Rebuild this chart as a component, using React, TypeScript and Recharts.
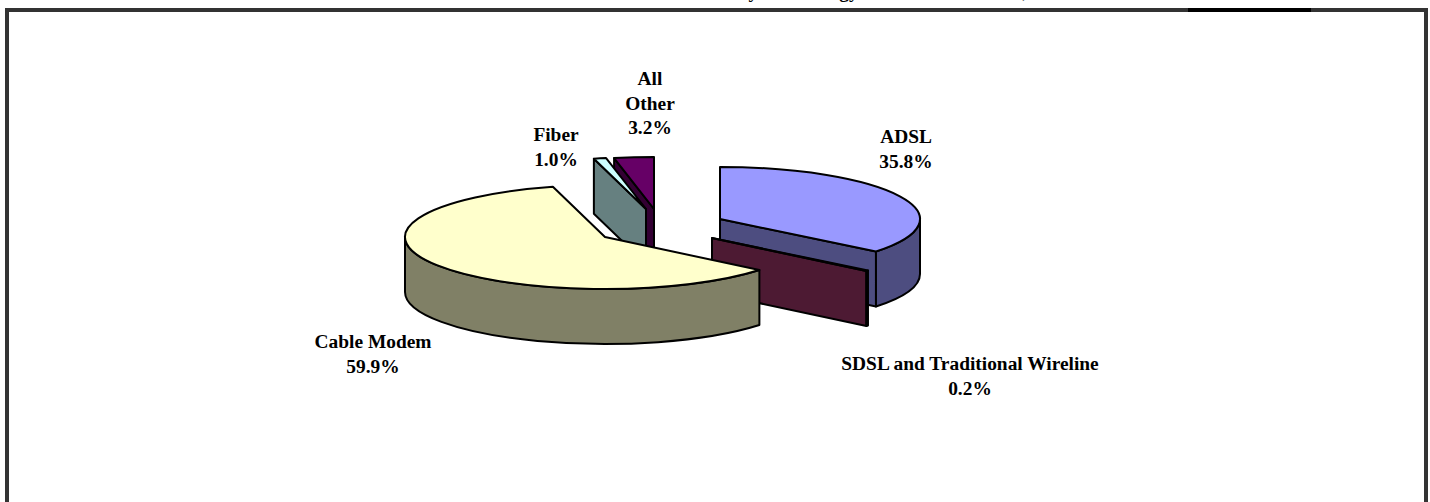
import { Pie, PieChart } from 'recharts';

const names = ['ADSL', 'SDSL and Traditional Wireline', 'Cable Modem', 'Fiber', 'All Other'];
const shares = [35.8, 0.2, 59.9, 1.0, 3.2];
const labelLines = [['ADSL'], ['SDSL and Traditional Wireline'], ['Cable Modem'], ['Fiber'], ['All', 'Other']];

const data = names.map((name, i) => ({ name, value: shares[i] }));

const WIDTH = 1430;
const HEIGHT = 502;
const CX = 660;
const CY = 225;
const RADIUS = 200;
const TILT = 0.26;
const DEPTH = 55;

// how far each slice is pulled out of the pie, and its colours
const explode = [[60, -6], [52, 13], [-55, 12], [-14, -16], [-6, -16]];
const topColors = ['#9999ff', '#993366', '#ffffcc', '#ccffff', '#660066'];
const sideColors = ['#4d4d80', '#4d1a33', '#808066', '#668080', '#330033'];
const labelAnchors = [[906, 143], [970, 370], [373, 348], [556, 141], [650, 85]];

// far slices first, so the cable modem slice ends up in front
const paintOrder = [4, 3, 0, 1, 2];

const rad = (deg: number) => (deg * Math.PI) / 180;

function Slice3D({ startAngle, endAngle, cx, cy, outerRadius, index }: any) {
  // recharts hands over math angles, the projection is easier with clock angles
  const a1 = 90 - startAngle;
  const a2 = 90 - endAngle;
  const ox = cx + explode[index][0];
  const oy = cy + explode[index][1];
  const rx = outerRadius;
  const ry = outerRadius * TILT;
  const px = (a: number) => ox + rx * Math.sin(rad(a));
  const py = (a: number) => oy - ry * Math.cos(rad(a));
  const arc = (from: number, to: number, dy: number) => {
    const large = Math.abs(to - from) > 180 ? 1 : 0;
    const sweep = to > from ? 1 : 0;
    return `A ${rx} ${ry} 0 ${large} ${sweep} ${px(to)} ${py(to) + dy}`;
  };
  const face = (a: number) =>
    `M ${ox} ${oy} L ${px(a)} ${py(a)} L ${px(a)} ${py(a) + DEPTH} L ${ox} ${oy + DEPTH} Z`;

  const wallFrom = Math.max(a1, 90);
  const wallTo = Math.min(a2, 270);
  const side = { fill: sideColors[index], stroke: '#000', strokeWidth: 2, strokeLinejoin: 'round' as const };

  return (
    <g>
      {Math.sin(rad(a1)) < -0.001 && <path d={face(a1)} {...side} />}
      {Math.sin(rad(a2)) > 0.001 && <path d={face(a2)} {...side} />}
      {wallTo > wallFrom && (
        <path
          d={`M ${px(wallFrom)} ${py(wallFrom)} ${arc(wallFrom, wallTo, 0)} L ${px(wallTo)} ${py(wallTo) + DEPTH} ${arc(wallTo, wallFrom, DEPTH)} Z`}
          {...side}
        />
      )}
      <path
        d={`M ${ox} ${oy} L ${px(a1)} ${py(a1)} ${arc(a1, a2, 0)} Z`}
        fill={topColors[index]}
        stroke="#000"
        strokeWidth={2}
        strokeLinejoin="round"
      />
    </g>
  );
}

function SliceLabel({ index, value }: any) {
  const [x, y] = labelAnchors[index];
  const lines = [...labelLines[index], `${value.toFixed(1)}%`];
  return (
    <text x={x} y={y} textAnchor="middle" fontFamily="'Liberation Serif', serif" fontWeight="bold" fontSize={19.4} fill="#000">
      {lines.map((line, i) => (
        <tspan key={line} x={x} dy={i === 0 ? 0 : 24.5}>
          {line}
        </tspan>
      ))}
    </text>
  );
}

export default function App() {
  return (
    <div style={{ position: 'absolute', left: 0, top: 0, width: WIDTH, height: HEIGHT, overflow: 'hidden', background: '#fff' }}>
      <div style={{ position: 'absolute', left: 586, top: -19, font: "bold 19.4px 'Liberation Serif', serif", wordSpacing: 2, whiteSpace: 'nowrap', color: '#000' }}>
        Residential Lines by Technology as of December 31, 2006
      </div>
      <div style={{ position: 'absolute', left: 5, top: 8, width: 1415, height: 520, border: '4px solid #333' }} />
      <div style={{ position: 'absolute', left: 1188, top: 8, width: 123, height: 4, background: '#000' }} />
      <div style={{ position: 'absolute', left: 0, top: 0 }}>
        <PieChart width={WIDTH} height={HEIGHT} margin={{ top: 0, right: 0, bottom: 0, left: 0 }}>
          {paintOrder.map((slice, layer) => (
            <Pie
              key={slice}
              data={data}
              dataKey="value"
              nameKey="name"
              cx={CX}
              cy={CY}
              outerRadius={RADIUS}
              startAngle={90}
              endAngle={-270}
              stroke="none"
              isAnimationActive={false}
              labelLine={false}
              label={layer === paintOrder.length - 1 ? (props: any) => <SliceLabel {...props} /> : false}
              shape={(props: any) => {
                const index = names.indexOf(props.name);
                return index === slice ? <Slice3D {...props} index={index} /> : <g />;
              }}
            />
          ))}
        </PieChart>
      </div>
    </div>
  );
}
